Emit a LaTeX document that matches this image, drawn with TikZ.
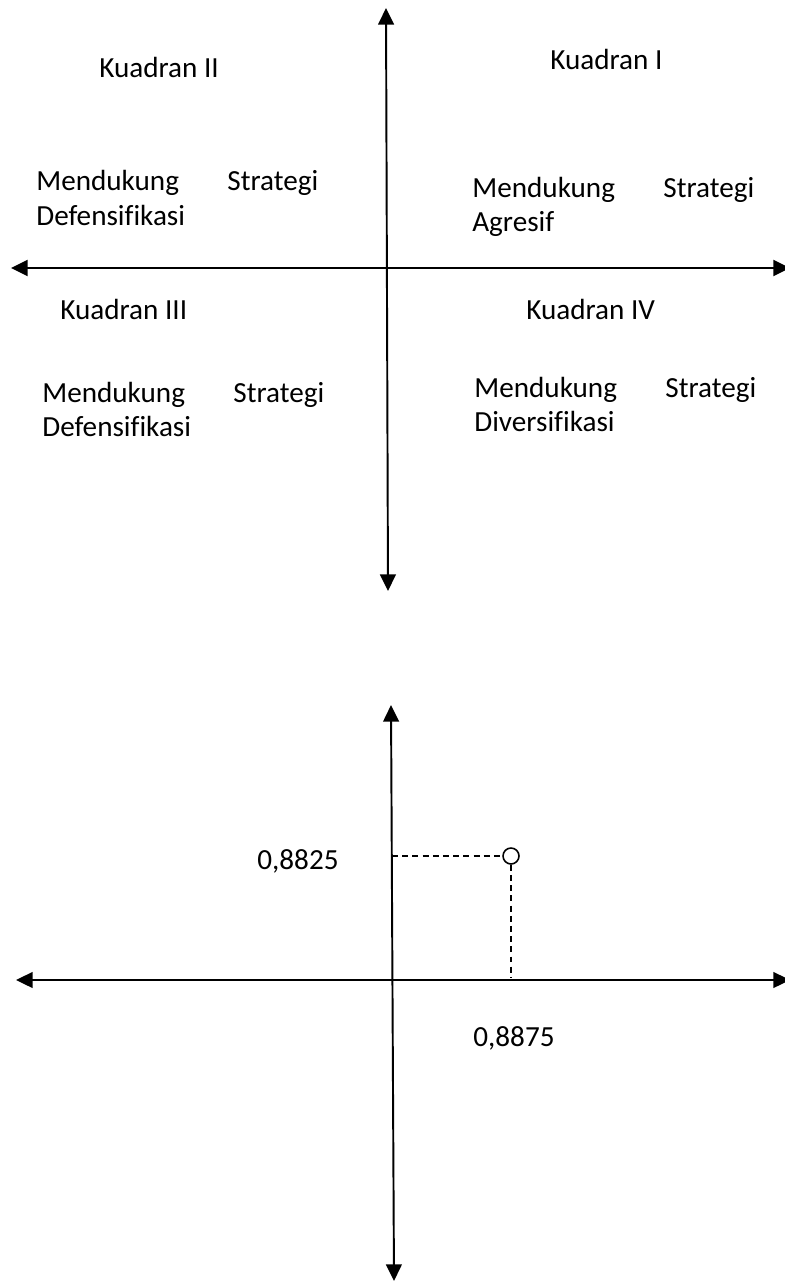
\documentclass[tikz,border=0pt]{standalone}
\usepackage{fontspec}
\setmainfont{Carlito}[Ligatures=CommonOff]
\usetikzlibrary{arrows.meta}

\begin{document}
\begin{tikzpicture}[
    x=0.02cm, y=-0.02cm,
    font=\fontsize{16.6}{19.8}\selectfont,
    quadtitle/.style={anchor=base west, inner sep=0pt, text=black},
    quadtext/.style={anchor=base west, inner sep=0pt, text=black, align=left, text width=5.64cm},
    value/.style={anchor=base west, inner sep=0pt, text=black},
    axis/.style={draw=black, line width=1.1pt, {Triangle[length=9.5pt,width=9pt]}-{Triangle[length=9.5pt,width=9pt]}},
    guide/.style={draw=black, dash pattern=on 3.4pt off 2.4pt, line width=0.8pt},
    point/.style={circle, draw=black, line width=0.9pt, fill=white, minimum size=0.32cm, inner sep=0pt}
]
\useasboundingbox (0,0) rectangle (784,1284);

% quadrant diagram
\coordinate (qN) at (386,8);
\coordinate (qS) at (388,591);
\coordinate (qW) at (11,268);
\coordinate (qE) at (790,268);

\node[quadtitle] (k2) at (99,78) {Kuadran II};
\node[quadtitle] (k1) at (550,70) {Kuadran I};
\node[quadtitle] (k3) at (60,319) {Kuadran III};
\node[quadtitle] (k4) at (526,319) {Kuadran IV};

\node[quadtext] (s2) at (36,191) {Mendukung\hfill Strategi\\Defensifikasi};
\node[quadtext] (s1) at (472,197) {Mendukung\hfill Strategi\\Agresif};
\node[quadtext] (s3) at (42,402) {Mendukung\hfill Strategi\\Defensifikasi};
\node[quadtext] (s4) at (474,397) {Mendukung\hfill Strategi\\Diversifikasi};

\draw[axis] (qS) -- (qN);
\draw[axis, line width=1.6pt] (qW) -- (qE);

% position diagram
\coordinate (pN) at (391,705);
\coordinate (pS) at (394,1281);
\coordinate (pW) at (16,980);
\coordinate (pE) at (790,980);

\draw[axis] (pS) -- (pN);
\draw[axis] (pW) -- (pE);

\node[point] (pt) at (511,856) {};
\coordinate (ptY) at (392,856);
\coordinate (ptX) at (511,978);
\draw[guide] (ptY) -- (pt.west);
\draw[guide] (pt.south) -- (ptX);

\node[value] (vy) at (257,869) {0,8825};
\node[value] (vx) at (473,1046) {0,8875};
\end{tikzpicture}
\end{document}
